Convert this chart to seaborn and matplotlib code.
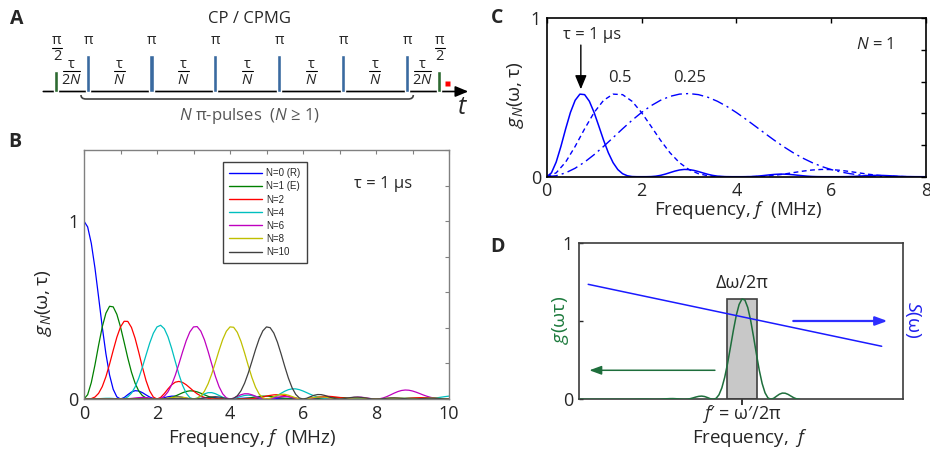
import numpy as np
import pandas as pd
import matplotlib
matplotlib.use("Agg")
import matplotlib.pyplot as plt
import seaborn as sns
from matplotlib.path import Path
from matplotlib.patches import PathPatch
from matplotlib.lines import Line2D

sns.set_style("white")
plt.rcParams['font.family'] = ['Open Sans', 'DejaVu Sans']
plt.rcParams['mathtext.fontset'] = 'custom'
plt.rcParams['mathtext.rm'] = 'Open Sans'
plt.rcParams['mathtext.it'] = 'Open Sans:italic'
plt.rcParams['mathtext.bf'] = 'Open Sans:bold'
plt.rcParams['mathtext.sf'] = 'Open Sans'
plt.rcParams['axes.unicode_minus'] = False

# ---------------- data: panel B (tau = 1 us), sampled every 0.1 MHz from 0 to 10 ----------------
freq_b = np.linspace(0, 10, 101)
g_N0 = [1.0, .9675, .8751, .7368, .5728, .4053, .2546, .1353, .0547, .0119,
        0, .0080, .0243, .0392, .0468, .0450, .0358, .0229, .0108, .0027,
        0, .0022, .0072, .0125, .0159, .0162, .0136, .0091, .0045, .0012,
        0, .0010, .0034, .0061, .0079, .0083, .0071, .0048, .0024, .0006,
        0, .0006, .0020, .0036, .0047, .0050, .0043, .0030, .0015, .0004,
        0, .0004, .0013, .0024, .0031, .0033, .0029, .0020, .0010, .0003,
        0, .0003, .0009, .0017, .0022, .0024, .0021, .0015, .0008, .0002,
        0, .0002, .0007, .0012, .0017, .0018, .0016, .0011, .0006, .0002,
        0, .0001, .0005, .0010, .0013, .0014, .0012, .0009, .0005, .0001,
        0, .0001, .0004, .0008, .0010, .0011, .0010, .0007, .0004, .0001,
        0]
g_N1 = [0, .0243, .0924, .1913, .3024, .4053, .4823, .5213, .5181, .4762,
        .4053, .3188, .2303, .1511, .0886, .0450, .0189, .0060, .0011, .0001,
        0, .0001, .0008, .0033, .0084, .0162, .0257, .0350, .0423, .0459,
        .0450, .0401, .0324, .0235, .0150, .0083, .0037, .0013, .0003, 0,
        0, 0, .0002, .0009, .0025, .0050, .0082, .0116, .0144, .0161,
        .0162, .0148, .0123, .0091, .0060, .0033, .0015, .0005, .0001, 0,
        0, 0, .0001, .0004, .0012, .0024, .0040, .0057, .0072, .0081,
        .0083, .0077, .0064, .0048, .0032, .0018, .0008, .0003, .0001, 0,
        0, 0, .0001, .0002, .0007, .0014, .0023, .0034, .0043, .0049,
        .0050, .0047, .0039, .0030, .0020, .0011, .0005, .0002, 0, 0,
        0]
g_N2 = [0, .0002, .0023, .0110, .0319, .0695, .1252, .1958, .2735, .3473,
        .4053, .4370, .4362, .4025, .3412, .2625, .1790, .1034, .0455, .0109,
        0, .0089, .0304, .0565, .0796, .0945, .0989, .0933, .0801, .0629,
        .0450, .0293, .0171, .0088, .0039, .0014, .0004, .0001, 0, 0,
        0, 0, 0, .0001, .0003, .0009, .0021, .0043, .0076, .0117,
        .0162, .0203, .0232, .0242, .0229, .0195, .0146, .0092, .0044, .0011,
        0, .0011, .0038, .0075, .0112, .0140, .0154, .0152, .0136, .0111,
        .0083, .0056, .0034, .0018, .0008, .0003, .0001, 0, 0, 0,
        0, 0, 0, 0, .0001, .0002, .0006, .0013, .0023, .0036,
        .0050, .0064, .0074, .0079, .0076, .0065, .0050, .0032, .0015, .0004,
        0]
g_N4 = [0, 0, .0001, .0006, .0015, .0028, .0038, .0040, .0030, .0012,
        0, .0023, .0120, .0328, .0676, .1172, .1790, .2474, .3142, .3697,
        .4053, .4145, .3953, .3500, .2855, .2116, .1391, .0772, .0326, .0074,
        0, .0054, .0171, .0288, .0357, .0359, .0298, .0199, .0098, .0026,
        0, .0023, .0080, .0148, .0199, .0217, .0195, .0142, .0076, .0022,
        0, .0024, .0094, .0200, .0322, .0437, .0524, .0570, .0569, .0525,
        .0450, .0359, .0265, .0180, .0112, .0062, .0030, .0012, .0004, .0001,
        0, 0, 0, 0, 0, 0, 0, 0, 0, 0,
        0, 0, 0, 0, 0, 0, 0, 0, 0, 0,
        0, 0, .0002, .0006, .0015, .0029, .0050, .0076, .0106, .0136,
        .0162]
g_N6 = [0, 0, 0, .0001, .0003, .0005, .0007, .0007, .0005, .0002,
        0, .0003, .0014, .0032, .0056, .0077, .0088, .0080, .0053, .0019,
        0, .0032, .0154, .0402, .0796, .1329, .1968, .2645, .3277, .3772,
        .4053, .4071, .3817, .3328, .2676, .1957, .1269, .0696, .0290, .0065,
        0, .0046, .0145, .0240, .0295, .0292, .0238, .0157, .0076, .0019,
        0, .0017, .0057, .0101, .0132, .0139, .0120, .0083, .0042, .0011,
        0, .0010, .0037, .0068, .0092, .0099, .0089, .0063, .0033, .0009,
        0, .0009, .0034, .0065, .0092, .0105, .0099, .0075, .0042, .0012,
        0, .0015, .0062, .0138, .0233, .0332, .0418, .0479, .0505, .0494,
        .0450, .0383, .0304, .0223, .0151, .0092, .0050, .0023, .0008, .0001,
        0]
g_N8 = [0, 0, 0, 0, .0001, .0002, .0002, .0002, .0001, .0001,
        0, .0001, .0004, .0008, .0014, .0019, .0020, .0017, .0011, .0004,
        0, .0005, .0021, .0047, .0078, .0104, .0113, .0100, .0065, .0022,
        0, .0036, .0171, .0439, .0855, .1408, .2056, .2731, .3344, .3809,
        .4053, .4033, .3749, .3242, .2587, .1878, .1209, .0659, .0273, .0061,
        0, .0043, .0133, .0219, .0267, .0263, .0213, .0140, .0067, .0017,
        0, .0015, .0049, .0086, .0112, .0116, .0099, .0068, .0034, .0009,
        0, .0008, .0028, .0052, .0069, .0073, .0064, .0045, .0023, .0006,
        0, .0006, .0021, .0039, .0053, .0057, .0051, .0036, .0019, .0005,
        0, .0005, .0019, .0035, .0049, .0054, .0050, .0036, .0020, .0006,
        0]
g_N10 = [0, 0, 0, 0, 0, .0001, .0001, .0001, .0001, 0,
         0, 0, .0001, .0003, .0005, .0007, .0007, .0006, .0004, .0001,
         0, .0002, .0006, .0014, .0022, .0028, .0029, .0024, .0014, .0005,
         0, .0006, .0026, .0057, .0092, .0120, .0129, .0112, .0071, .0024,
         0, .0038, .0181, .0461, .0890, .1455, .2109, .2782, .3385, .3832,
         .4053, .4011, .3709, .3191, .2534, .1831, .1174, .0637, .0262, .0058,
         0, .0041, .0126, .0207, .0251, .0246, .0199, .0130, .0062, .0016,
         0, .0013, .0045, .0079, .0101, .0105, .0089, .0061, .0030, .0008,
         0, .0007, .0025, .0045, .0060, .0063, .0055, .0038, .0019, .0005,
         0, .0005, .0017, .0031, .0042, .0045, .0040, .0028, .0015, .0004,
         0]
b_labels = ["N=0 (R)", "N=1 (E)", "N=2", "N=4", "N=6", "N=8", "N=10"]
b_values = [g_N0, g_N1, g_N2, g_N4, g_N6, g_N8, g_N10]
b_colors = ["#0000ff", "#008000", "#ff0000", "#00bfbf", "#bf00bf", "#bfbf00", "#404040"]

# ---------------- data: panel C (N = 1, three tau values) ----------------
freq_c1 = np.linspace(0, 8, 81)
c_tau1 = g_N1[:81]
freq_c2 = np.linspace(0, 8, 41)
c_tau05 = g_N1[:41]
c_tau025 = [0, .0061, .0243, .0535, .0924, .1391, .1913, .2466, .3024, .3561,
            .4053, .4479, .4823, .5070, .5213, .5249, .5181, .5015, .4762, .4436,
            .4053, .3631, .3188, .2740, .2303, .1890, .1511, .1175, .0886, .0644,
            .0450, .0300, .0189, .0111, .0060, .0028, .0011, .0004, .0001, 0,
            0]

# ---------------- data: panel D (schematic) ----------------
freq_d = np.concatenate([[-0.7], np.linspace(0, 7, 71)])
g_d = [0,
       0, 0, 0, 0, 0, .0002, .0002, .0002, .0001, 0,
       0, 0, .0002, .0005, .0008, .0011, .0011, .0010, .0006, .0002,
       0, .0003, .0010, .0022, .0035, .0044, .0046, .0038, .0022, .0008,
       0, .0010, .0041, .0090, .0146, .0190, .0205, .0178, .0113, .0038,
       0, .0060, .0287, .0731, .1412, .2308, .3346, .4414, .5371, .6080,
       .6430, .6364, .5885, .5063, .4020, .2905, .1863, .1011, .0416, .0092,
       0, .0065, .0200, .0328, .0398, .0390, .0316, .0206, .0098, .0025,
       0]
s_line_x = [-0.34, 9.85]
s_line_y = [0.737, 0.34]
window_center = 5.0
window_width = 1.02
window_height = 0.643

# ---------------- data: panel A (pulse sequence, times in units of tau) ----------------
pi_times = [0.0833, 0.25, 0.4167, 0.5833, 0.75, 0.9167]
half_pi_times = [0.0, 1.0]

fig = plt.figure(figsize=(9.3, 4.54), dpi=100)
W, H = 930.0, 454.0

def fx(px):
    return px / W

def fy(py):
    return 1 - py / H

# ======== Panel A ========
ax_a = fig.add_axes([0, fy(130), fx(480), 130 / H])
ax_a.set_xlim(-0.1457, 1.1079)
ax_a.set_ylim(-38.5, 91.5)
ax_a.axis('off')
PX = 1 / 382.9  # one pixel in tau units

ax_a.annotate('', xy=(1.0773, 0), xytext=(-0.0326, 0),
              arrowprops=dict(arrowstyle='-|>,head_length=0.6,head_width=0.25',
                              lw=1.2, color='black', shrinkA=0, shrinkB=0,
                              mutation_scale=13))
ax_a.bar(pi_times, 37, width=4.2 * PX, color='#3a6aa0', zorder=3)
ax_a.bar(half_pi_times, 21, width=4.2 * PX, color='#2e6a31', zorder=3)
ax_a.plot([1.0209], [8.7], 's', ms=3.6, color='#ff0000', mec='none', zorder=4)

def frac(x, num, den, y_num, y_bar, y_den, half_w, size=10.5):
    ax_a.text(x, y_num, num, ha='center', va='center', fontsize=size)
    ax_a.plot([x - half_w, x + half_w], [y_bar, y_bar], color='black', lw=0.8)
    ax_a.text(x, y_den, den, ha='center', va='center', fontsize=size)

for t in half_pi_times:
    frac(t + 1.2 * PX, 'π', '2', 51, 43.8, 35.5, 5 * PX)
for t in pi_times:
    ax_a.text(t + 0.5 * PX, 51, 'π', ha='center', va='center', fontsize=10.5)
mid_times = [(a + b) / 2 for a, b in zip(pi_times[:-1], pi_times[1:])]
for t in mid_times:
    frac(t, 'τ', '$N$', 27.5, 20.8, 11.0, 5.5 * PX)
frac((half_pi_times[0] + pi_times[0]) / 2, 'τ', '2$N$', 27.5, 20.8, 11.0, 8.5 * PX)
frac((pi_times[-1] + half_pi_times[1]) / 2, 'τ', '2$N$', 27.5, 20.8, 11.0, 8.5 * PX)

x0, x1 = 0.0658, 0.9337
verts = [(x0, -3.5), (x0, -7.5), (x0 + 5 * PX, -7.5), (x1 - 5 * PX, -7.5), (x1, -7.5), (x1, -3.5)]
codes = [Path.MOVETO, Path.CURVE3, Path.CURVE3, Path.LINETO, Path.CURVE3, Path.CURVE3]
ax_a.add_patch(PathPatch(Path(verts, codes), fill=False, lw=1.2, edgecolor='#404040'))
ax_a.text(0.507, -24, r'$N$ π-pulses  ($N$ ≥ 1)', ha='center', va='center', fontsize=12, color='#555555')
ax_a.text(1.0634, -15.5, '$t$', ha='center', va='center', fontsize=18)
ax_a.text(0.507, 72.5, 'CP / CPMG', ha='center', va='center', fontsize=12)

# ======== Panel B ========
ax_b = fig.add_axes([fx(84), fy(399), (449 - 84) / W, (399 - 150) / H])
df_b = pd.concat([pd.DataFrame({'f': freq_b, 'g': v, 'series': lab})
                  for lab, v in zip(b_labels, b_values)], ignore_index=True)
sns.lineplot(data=df_b, x='f', y='g', hue='series', hue_order=b_labels,
             palette=dict(zip(b_labels, b_colors)), linewidth=0.9,
             estimator=None, sort=False, legend=False, ax=ax_b)
ax_b.set_xlim(0, 10)
ax_b.set_ylim(0, 1.4)
ax_b.set_xticks(range(0, 11))
ax_b.set_xticklabels([str(i) if i % 2 == 0 else '' for i in range(0, 11)])
yt = [0, 0.2, 0.4, 0.6, 0.8, 1.0, 1.2, 1.4]
ax_b.set_yticks(yt)
ax_b.set_yticklabels(['0', '', '', '', '', '1', '', ''])
ax_b.tick_params(direction='in', top=True, right=True, length=3, width=0.8,
                 color='#808080', labelsize=13, pad=4)
for s in ax_b.spines.values():
    s.set_color('#808080')
    s.set_linewidth(1.0)
ax_b.set_xlabel('')
ax_b.set_ylabel('')
handles = [Line2D([], [], color=c, lw=1.0) for c in b_colors]
leg = ax_b.legend(handles, b_labels, loc='upper left', bbox_to_anchor=(0.38, 0.95),
                  borderaxespad=0, prop={'family': 'Liberation Sans', 'size': 7},
                  handlelength=3.4, handletextpad=0.5, labelspacing=0.32,
                  borderpad=0.6, frameon=True, fancybox=False,
                  edgecolor='#404040', framealpha=1)
leg.get_frame().set_linewidth(1.0)
ax_b.text(8.2, 1.21, 'τ = 1 µs', ha='center', va='center', fontsize=12)
fig.text(fx(251.7), fy(438), 'Frequency, $f$  (MHz)', ha='center', va='center', fontsize=13.5)
fig.text(fx(43), fy(303), r'$g_N(\mathrm{\omega,\tau})$', ha='center', va='center', fontsize=14, rotation=90)

# ======== Panel C ========
ax_c = fig.add_axes([fx(546.7), fy(176.7), (926 - 546.7) / W, (176.7 - 18.3) / H])
blue = '#0000ff'
sns.lineplot(x=freq_c1, y=c_tau1, color=blue, lw=1.1, ax=ax_c, estimator=None, sort=False)
sns.lineplot(x=freq_c2, y=c_tau05, color=blue, lw=1.0, ax=ax_c, estimator=None, sort=False,
             linestyle=(0, (3.5, 2.5)))
sns.lineplot(x=freq_c2, y=c_tau025, color=blue, lw=1.0, ax=ax_c, estimator=None, sort=False,
             linestyle=(0, (8, 3, 1.5, 3)))
ax_c.set_xlim(0, 8)
ax_c.set_ylim(0, 1)
ax_c.set_xticks([0, 2, 4, 6, 8])
ax_c.set_yticks([0, 0.2, 0.4, 0.6, 0.8, 1.0])
ax_c.set_yticklabels(['0', '', '', '', '', '1'])
ax_c.tick_params(direction='in', top=True, right=True, length=3.5, width=1,
                 color='black', labelsize=13, pad=4)
for s in ax_c.spines.values():
    s.set_color('black')
    s.set_linewidth(1.2)
ax_c.set_xlabel('')
ax_c.set_ylabel('')
ax_c.annotate('', xy=(0.72, 0.552), xytext=(0.72, 0.831),
              arrowprops=dict(arrowstyle='-|>,head_length=0.6,head_width=0.25',
                              lw=1.0, color='black', shrinkA=0, shrinkB=0, mutation_scale=14))
ax_c.text(0.95, 0.895, 'τ = 1 µs', ha='center', va='center', fontsize=12)
ax_c.text(1.55, 0.623, '0.5', ha='center', va='center', fontsize=12)
ax_c.text(3.02, 0.623, '0.25', ha='center', va='center', fontsize=12)
ax_c.text(6.92, 0.831, '$N$ = 1', ha='center', va='center', fontsize=12)
fig.text(fx(738.3), fy(210), 'Frequency, $f$  (MHz)', ha='center', va='center', fontsize=13.5)
fig.text(fx(515), fy(95), r'$g_N(\mathrm{\omega,\tau})$', ha='center', va='center', fontsize=14, rotation=90)

# ======== Panel D ========
ax_d = fig.add_axes([fx(578.7), fy(399.3), 324 / W, 156 / H])
ax_d.bar([window_center], [window_height], width=window_width, color='#c8c8c8',
         edgecolor='#404040', linewidth=1.2, zorder=1)
green = '#1e6e3c'
sns.lineplot(x=freq_d, y=g_d, color=green, lw=1.1, ax=ax_d, estimator=None, sort=False, zorder=3)
sns.lineplot(x=s_line_x, y=s_line_y, color='#1a1aff', lw=1.1, ax=ax_d, estimator=None, sort=False, zorder=4)
ax_d.set_xlim(-0.67, 10.58)
ax_d.set_ylim(0, 1)
ax_d.set_xticks([window_center])
ax_d.set_xticklabels([''])
ax_d.set_yticks([0, 0.5, 1])
ax_d.set_yticklabels(['0', '', '1'])
ax_d.tick_params(axis='y', direction='in', length=3, width=1, left=True, right=False,
                 labelsize=13, pad=4)
ax_d.tick_params(axis='x', direction='inout', length=8, width=1.3, bottom=True, top=False)
for s in ax_d.spines.values():
    s.set_color('#3c3c3c')
    s.set_linewidth(1.2)
ax_d.set_xlabel('')
ax_d.set_ylabel('')
ax_d.annotate('', xy=(-0.30, 0.186), xytext=(4.06, 0.186),
              arrowprops=dict(arrowstyle='-|>,head_length=0.6,head_width=0.22',
                              lw=1.1, color=green, shrinkA=0, shrinkB=0, mutation_scale=12))
ax_d.annotate('', xy=(10.05, 0.502), xytext=(6.78, 0.502),
              arrowprops=dict(arrowstyle='-|>,head_length=0.6,head_width=0.22',
                              lw=1.6, color='#2e2eff', shrinkA=0, shrinkB=0, mutation_scale=12))
ax_d.text(window_center, 0.745, 'Δω/2π', ha='center', va='center', fontsize=13)
fig.text(fx(742), fy(414), "$f$′ = ω′/2π", ha='center', va='center', fontsize=13)
fig.text(fx(750), fy(438), 'Frequency,  $f$', ha='center', va='center', fontsize=13.5)
fig.text(fx(560), fy(320), r'$g(\mathrm{\omega\tau})$', ha='center', va='center', fontsize=14,
         rotation=90, color='#1e7b3e')
fig.text(fx(913), fy(320), r'$S(\mathrm{\omega})$', ha='center', va='center', fontsize=14,
         rotation=270, color='#2020ee')

# panel letters
for lab, (px, py) in {'A': (17, 19), 'B': (15, 142), 'C': (497, 18), 'D': (497, 247)}.items():
    fig.text(fx(px), fy(py), lab, ha='center', va='center', fontsize=14, fontweight='bold')

fig.savefig('out.png', dpi=100)
